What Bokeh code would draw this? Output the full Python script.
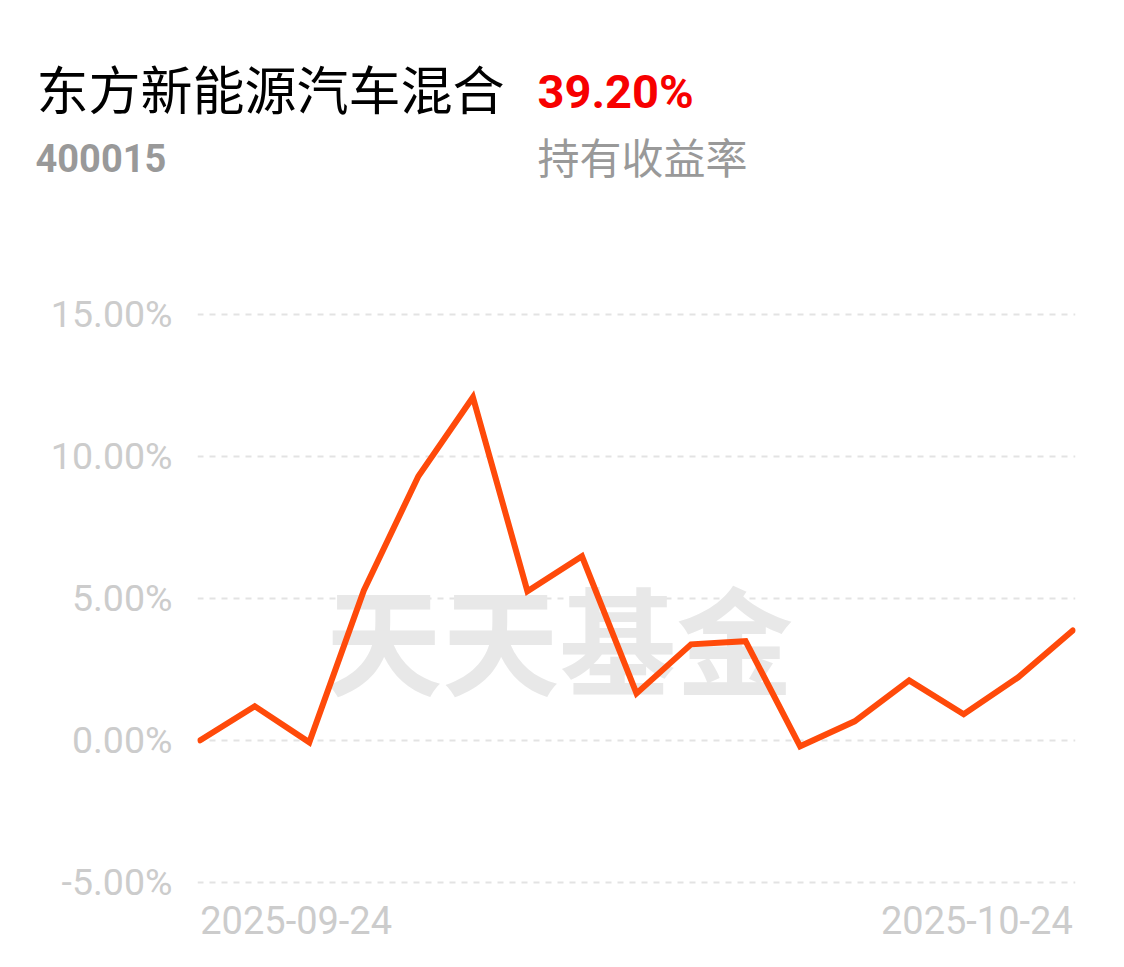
from bokeh.plotting import figure
from bokeh.layouts import column
from bokeh.models import Label, Range1d, FixedTicker, PrintfTickFormatter
from bokeh.core.properties import value
from bokeh.embed import file_html
from bokeh.resources import INLINE

# ---- data ----
dates = ["2025-09-24", "2025-09-25", "2025-09-26", "2025-09-29", "2025-09-30",
         "2025-10-09", "2025-10-10", "2025-10-13", "2025-10-14", "2025-10-15",
         "2025-10-16", "2025-10-17", "2025-10-20", "2025-10-21", "2025-10-22",
         "2025-10-23", "2025-10-24"]
returns = [0.00, 1.20, -0.07, 5.28, 9.30, 12.08, 5.25, 6.48, 1.65, 3.38,
           3.49, -0.21, 0.67, 2.11, 0.92, 2.22, 3.87]
y_ticks = [-5, 0, 5, 10, 15]
x_tick_idx = [0, len(dates) - 1]
x_tick_labels = [dates[0], dates[-1]]
fund_name = "东方新能源汽车混合"
fund_code = "400015"
total_return = "39.20%"
return_label = "持有收益率"
watermark = "天天基金"

xs = list(range(len(dates)))
W = 1124
LEFT, RIGHT = 197, 49

# ---- header ----
HH = 260
head = figure(width=W, height=HH, output_backend="svg", toolbar_location=None,
              x_range=Range1d(0, W), y_range=Range1d(HH, 0),
              min_border=0, min_border_left=0, min_border_right=0,
              min_border_top=0, min_border_bottom=0)
head.frame_align = False
head.axis.visible = False
head.grid.visible = False
head.outline_line_color = None
head.background_fill_color = "white"
head.border_fill_color = "white"
head.text(x=[36], y=[87], text=[fund_name], text_font=value("Noto Sans CJK SC"),
          text_font_size="52px", text_color="#000000", text_baseline="middle",
          text_align="left")
head.text(x=[537], y=[91], text=[total_return], text_font=value("Roboto"),
          text_font_style="bold", text_font_size="47px", text_color="#f70000",
          text_baseline="middle", text_align="left")
head.text(x=[35], y=[157], text=[fund_code], text_font=value("Roboto"),
          text_font_style="bold", text_font_size="38px", text_color="#999999",
          text_baseline="middle", text_align="left")
head.text(x=[537], y=[155], text=[return_label], text_font=value("Noto Sans CJK SC"),
          text_font_size="42px", text_color="#999999", text_baseline="middle",
          text_align="left")

# ---- chart (frame runs to the bottom edge so date labels fit inside) ----
CH = 967 - HH
xr = Range1d(-0.05, len(dates) - 1 + 0.05)
p = figure(width=W, height=CH, output_backend="svg", toolbar_location=None,
           x_range=xr, y_range=Range1d(-8.0, 15.1),
           min_border_left=LEFT, min_border_right=RIGHT,
           min_border_top=51, min_border_bottom=0)
p.outline_line_color = None
p.background_fill_color = "white"
p.border_fill_color = "white"
p.xaxis.visible = False
p.xgrid.visible = False

yax = p.yaxis[0]
yax.ticker = FixedTicker(ticks=y_ticks)
yax.formatter = PrintfTickFormatter(format="%.2f%%")
yax.axis_line_color = None
yax.major_tick_line_color = None
yax.minor_tick_line_color = None
yax.major_tick_in = 0
yax.major_tick_out = 0
yax.minor_tick_in = 0
yax.minor_tick_out = 0
yax.major_label_text_font = "Roboto"
yax.major_label_text_font_size = "37.5px"
yax.major_label_text_color = "#cccccc"
yax.major_label_standoff = 25

p.ygrid.ticker = FixedTicker(ticks=y_ticks)
p.ygrid.grid_line_color = "#e3e3e3"
p.ygrid.grid_line_width = 2
p.ygrid.grid_line_dash = "6 6"

p.add_layout(Label(x=0, y=0, x_offset=359, y_offset=104, text=watermark,
                   text_font="Noto Sans CJK SC", text_font_style="bold",
                   text_font_size="117px", text_color="#e8e8e8",
                   text_align="center", text_baseline="middle", level="underlay"))

p.line(xs, returns, line_color="#ff4a0a", line_width=6, line_join="miter",
       line_cap="round")

# date labels under the -5% grid line
p.add_layout(Label(x=x_tick_idx[0], y=y_ticks[0], y_offset=-38, text=x_tick_labels[0],
                   text_font="Roboto", text_font_size="38px", text_color="#cccccc",
                   text_align="left", text_baseline="middle"))
p.add_layout(Label(x=x_tick_idx[1], y=y_ticks[0], y_offset=-38, text=x_tick_labels[1],
                   text_font="Roboto", text_font_size="38px", text_color="#cccccc",
                   text_align="right", text_baseline="middle"))

layout = column(head, p, spacing=0)
open("out.html", "w").write(file_html(layout, INLINE))
